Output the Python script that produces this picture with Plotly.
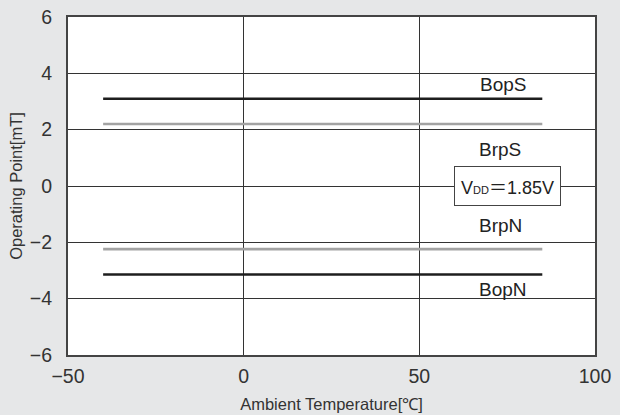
import plotly.graph_objects as go

# Data
temps = [-40, 85]
series_names = ["BopS", "BrpS", "BrpN", "BopN"]
series_values = [3.1, 2.2, -2.24, -3.14]
series_colors = ["#1e1e1e", "#a3a3a3", "#a3a3a3", "#1e1e1e"]
label_x = [73.7, 73.0, 73.0, 73.7]
label_y = [3.62, 1.3, -1.41, -3.66]
x_ticks = [-50, 0, 50, 100]
y_ticks = [-6, -4, -2, 0, 2, 4, 6]

FONT = "Liberation Sans, Arial, Helvetica, sans-serif"
BG = "#e6e7e8"

fig = go.Figure()
for name, v, c in zip(series_names, series_values, series_colors):
    fig.add_trace(go.Scatter(x=temps, y=[v, v], mode="lines",
                             line=dict(color=c, width=2.6), name=name,
                             showlegend=False, hoverinfo="skip"))

for name, lx, ly in zip(series_names, label_x, label_y):
    fig.add_annotation(x=lx, y=ly, text=name, showarrow=False,
                       font=dict(family=FONT, size=19, color="#222"))

fig.add_annotation(x=75.1, y=0,
                   text="V<span style='font-size:11px'>DD</span>"
                        "<span style='font-family:Noto Sans CJK JP'>＝</span>1.85V",
                   showarrow=False, bgcolor="white", bordercolor="#444",
                   borderwidth=1, borderpad=6,
                   font=dict(family=FONT, size=18, color="#222"))

fig.update_layout(
    width=620, height=415,
    margin=dict(l=68, r=25, t=17, b=60),
    paper_bgcolor=BG,
    plot_bgcolor="white",
    font=dict(family=FONT, size=19, color="#333"),
)
fig.update_xaxes(range=[-50, 100], tickvals=x_ticks, showgrid=True,
                 gridcolor="#333", gridwidth=1, zeroline=False,
                 showline=True, linecolor="#444", linewidth=2, mirror=True,
                 ticks="", ticklabelstandoff=3, automargin=False,
                 title=dict(text="Ambient Temperature[℃]", standoff=12,
                            font=dict(family=FONT, size=16.5, color="#333")),
                 tickfont=dict(family=FONT, size=19.5, color="#333"))
fig.update_yaxes(range=[-6, 6], tickvals=y_ticks, showgrid=True,
                 gridcolor="#333", gridwidth=1, zeroline=False,
                 showline=True, linecolor="#444", linewidth=2, mirror=True,
                 ticks="", ticklabelstandoff=10, automargin=False,
                 title=dict(text="Operating Point[mT]", standoff=3,
                            font=dict(family=FONT, size=16.5, color="#333")),
                 tickfont=dict(family=FONT, size=19.5, color="#333"))

fig.write_html("out.html", config={"displayModeBar": False},
               post_script="document.body.style.margin='0';"
                           "document.body.style.background='" + BG + "';")
